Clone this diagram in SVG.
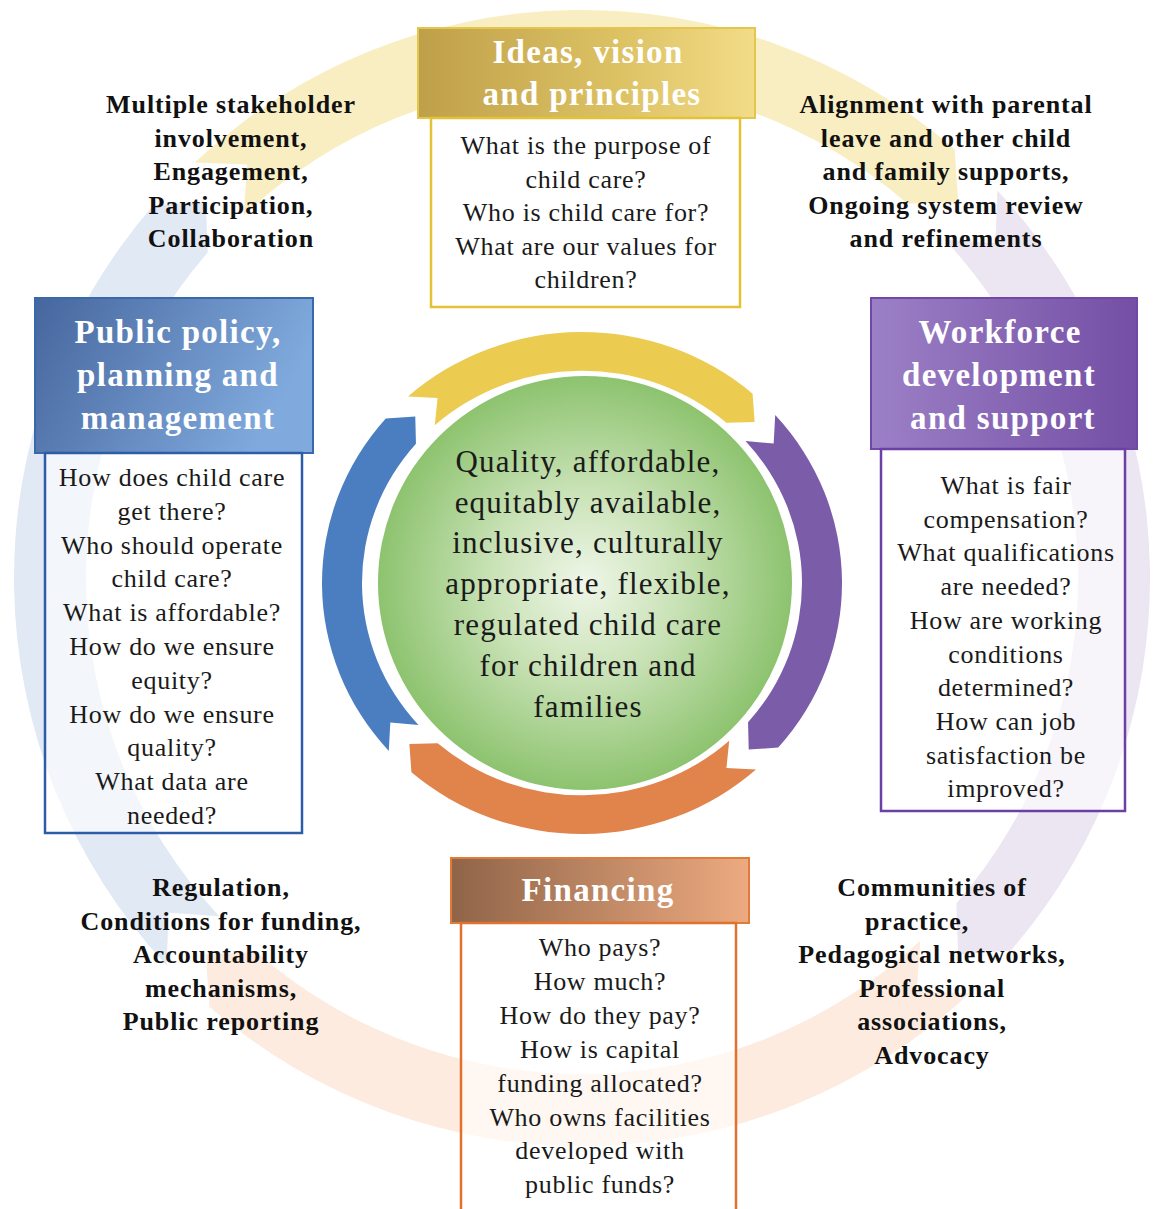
<svg xmlns="http://www.w3.org/2000/svg" width="1154" height="1209" viewBox="0 0 1154 1209">
<style>
.hd{font-family:"Liberation Serif",serif;font-weight:bold;font-size:33px;fill:#fff;text-anchor:middle;letter-spacing:1.3px}
.bd{font-family:"Liberation Serif",serif;font-size:26px;fill:#1a1a1a;text-anchor:middle;letter-spacing:0.7px}
.sd{font-family:"Liberation Serif",serif;font-weight:bold;font-size:26px;fill:#111;text-anchor:middle;letter-spacing:0.9px}
.ct{font-family:"Liberation Serif",serif;font-size:31px;fill:#1a1a1a;text-anchor:middle;letter-spacing:1.2px}
.box{stroke-width:2.5}
</style>
<defs>
<path id="bigChev" d="M -387.38 -415.41 A 568 568 0 0 1 372.64 -428.68 L 376.18 -376.18 L 325.41 -374.34 A 496 496 0 0 0 -338.27 -362.75 L -334.80 -413.44 Z"/>
<path id="chev" d="M -173.97 -193.22 A 260 260 0 0 1 170.58 -196.22 L 172.64 -166.72 L 144.33 -166.04 A 220 220 0 0 0 -147.21 -163.49 L -144.44 -191.67 Z"/>
<linearGradient id="gIdeas" x1="0" y1="0" x2="1" y2="0"><stop offset="0" stop-color="#BFA04A"/><stop offset="0.6" stop-color="#DDC264"/><stop offset="1" stop-color="#F3DC88"/></linearGradient>
<linearGradient id="gPolicy" x1="0" y1="0" x2="1" y2="0.3"><stop offset="0" stop-color="#46669E"/><stop offset="1" stop-color="#80AADD"/></linearGradient>
<linearGradient id="gWork" x1="0" y1="0" x2="1" y2="0"><stop offset="0" stop-color="#9C80C6"/><stop offset="1" stop-color="#744FA5"/></linearGradient>
<linearGradient id="gFin" x1="0" y1="0" x2="1" y2="0"><stop offset="0" stop-color="#8F6448"/><stop offset="1" stop-color="#EDAA80"/></linearGradient>
<radialGradient id="gCore" cx="0.5" cy="0.5" r="0.5"><stop offset="0" stop-color="#EFF6E8"/><stop offset="0.45" stop-color="#C9E2B6"/><stop offset="1" stop-color="#8DC36F"/></radialGradient>
</defs>

<g id="background-ring" transform="translate(582,578)">
<use href="#bigChev" fill="#F9EEC2"/>
<use href="#bigChev" fill="#ECE5F2" transform="rotate(90)"/>
<use href="#bigChev" fill="#FCEBDE" transform="rotate(180)"/>
<use href="#bigChev" fill="#E0E9F4" transform="rotate(270)"/>
</g>

<g id="connectors" transform="translate(582,583) scale(1,0.965)">
<use href="#chev" fill="#EBCB50"/>
<use href="#chev" fill="#7B5CA9" transform="rotate(90)"/>
<use href="#chev" fill="#E0844B" transform="rotate(180)"/>
<use href="#chev" fill="#4A7EC1" transform="rotate(270)"/>
</g>

<g id="core">
<circle cx="585" cy="583" r="207" fill="url(#gCore)"/>
<text class="ct" x="588" y="472">Quality, affordable,</text>
<text class="ct" x="588" y="513">equitably available,</text>
<text class="ct" x="588" y="553">inclusive, culturally</text>
<text class="ct" x="588" y="594">appropriate, flexible,</text>
<text class="ct" x="588" y="635">regulated child care</text>
<text class="ct" x="588" y="676">for children and</text>
<text class="ct" x="588" y="717">families</text>
</g>

<g id="ideas">
<rect x="418" y="28" width="337" height="90" fill="url(#gIdeas)" stroke="#E4C64C" stroke-width="2"/>
<text class="hd" x="588" y="63">Ideas, vision</text>
<text class="hd" x="592" y="105">and principles</text>
<rect class="box" x="431" y="118" width="309" height="189" fill="#fff" fill-opacity="0.6" stroke="#E3C335"/>
<text class="bd" x="586" y="154">What is the purpose of</text>
<text class="bd" x="586" y="187.5">child care?</text>
<text class="bd" x="586" y="221">Who is child care for?</text>
<text class="bd" x="586" y="254.5">What are our values for</text>
<text class="bd" x="586" y="288">children?</text>
</g>

<g id="policy">
<rect x="35" y="298" width="278" height="155" fill="url(#gPolicy)" stroke="#3A68AC" stroke-width="2"/>
<text class="hd" x="178" y="343">Public policy,</text>
<text class="hd" x="178" y="386">planning and</text>
<text class="hd" x="178" y="429">management</text>
<rect class="box" x="45" y="453" width="257" height="380" fill="#fff" fill-opacity="0.6" stroke="#2E5DA8"/>
<text class="bd" x="172" y="486">How does child care</text>
<text class="bd" x="172" y="519.8">get there?</text>
<text class="bd" x="172" y="553.6">Who should operate</text>
<text class="bd" x="172" y="587.4">child care?</text>
<text class="bd" x="172" y="621.2">What is affordable?</text>
<text class="bd" x="172" y="655">How do we ensure</text>
<text class="bd" x="172" y="688.8">equity?</text>
<text class="bd" x="172" y="722.6">How do we ensure</text>
<text class="bd" x="172" y="756.4">quality?</text>
<text class="bd" x="172" y="790.2">What data are</text>
<text class="bd" x="172" y="824">needed?</text>
</g>

<g id="workforce">
<rect x="871" y="298" width="266" height="151" fill="url(#gWork)" stroke="#6F48A8" stroke-width="2"/>
<text class="hd" x="1000" y="343">Workforce</text>
<text class="hd" x="999" y="386">development</text>
<text class="hd" x="1003" y="429">and support</text>
<rect class="box" x="881" y="449" width="244" height="362" fill="#fff" fill-opacity="0.6" stroke="#6B3FA5"/>
<text class="bd" x="1006" y="494">What is fair</text>
<text class="bd" x="1006" y="527.7">compensation?</text>
<text class="bd" x="1006" y="561.4">What qualifications</text>
<text class="bd" x="1006" y="595.1">are needed?</text>
<text class="bd" x="1006" y="628.8">How are working</text>
<text class="bd" x="1006" y="662.5">conditions</text>
<text class="bd" x="1006" y="696.2">determined?</text>
<text class="bd" x="1006" y="729.9">How can job</text>
<text class="bd" x="1006" y="763.6">satisfaction be</text>
<text class="bd" x="1006" y="797.3">improved?</text>
</g>

<g id="financing">
<rect x="451" y="858" width="298" height="65" fill="url(#gFin)" stroke="#E07B39" stroke-width="2"/>
<text class="hd" x="598" y="901">Financing</text>
<rect class="box" x="461" y="923" width="275" height="300" fill="#fff" fill-opacity="0.6" stroke="#E0722E"/>
<text class="bd" x="600" y="956">Who pays?</text>
<text class="bd" x="600" y="989.9">How much?</text>
<text class="bd" x="600" y="1023.8">How do they pay?</text>
<text class="bd" x="600" y="1057.7">How is capital</text>
<text class="bd" x="600" y="1091.6">funding allocated?</text>
<text class="bd" x="600" y="1125.5">Who owns facilities</text>
<text class="bd" x="600" y="1159.4">developed with</text>
<text class="bd" x="600" y="1193.3">public funds?</text>
</g>

<g id="stakeholders">
<text class="sd" x="231" y="113">Multiple stakeholder</text>
<text class="sd" x="231" y="146.5">involvement,</text>
<text class="sd" x="231" y="180">Engagement,</text>
<text class="sd" x="231" y="213.5">Participation,</text>
<text class="sd" x="231" y="247">Collaboration</text>
</g>

<g id="alignment">
<text class="sd" x="946" y="113">Alignment with parental</text>
<text class="sd" x="946" y="146.5">leave and other child</text>
<text class="sd" x="946" y="180">and family supports,</text>
<text class="sd" x="946" y="213.5">Ongoing system review</text>
<text class="sd" x="946" y="247">and refinements</text>
</g>

<g id="regulation">
<text class="sd" x="221" y="896">Regulation,</text>
<text class="sd" x="221" y="929.5">Conditions for funding,</text>
<text class="sd" x="221" y="963">Accountability</text>
<text class="sd" x="221" y="996.5">mechanisms,</text>
<text class="sd" x="221" y="1030">Public reporting</text>
</g>

<g id="communities">
<text class="sd" x="932" y="896">Communities of</text>
<text class="sd" x="917" y="929.5">practice,</text>
<text class="sd" x="932" y="963">Pedagogical networks,</text>
<text class="sd" x="932" y="996.5">Professional</text>
<text class="sd" x="932" y="1030">associations,</text>
<text class="sd" x="932" y="1063.5">Advocacy</text>
</g>
</svg>
